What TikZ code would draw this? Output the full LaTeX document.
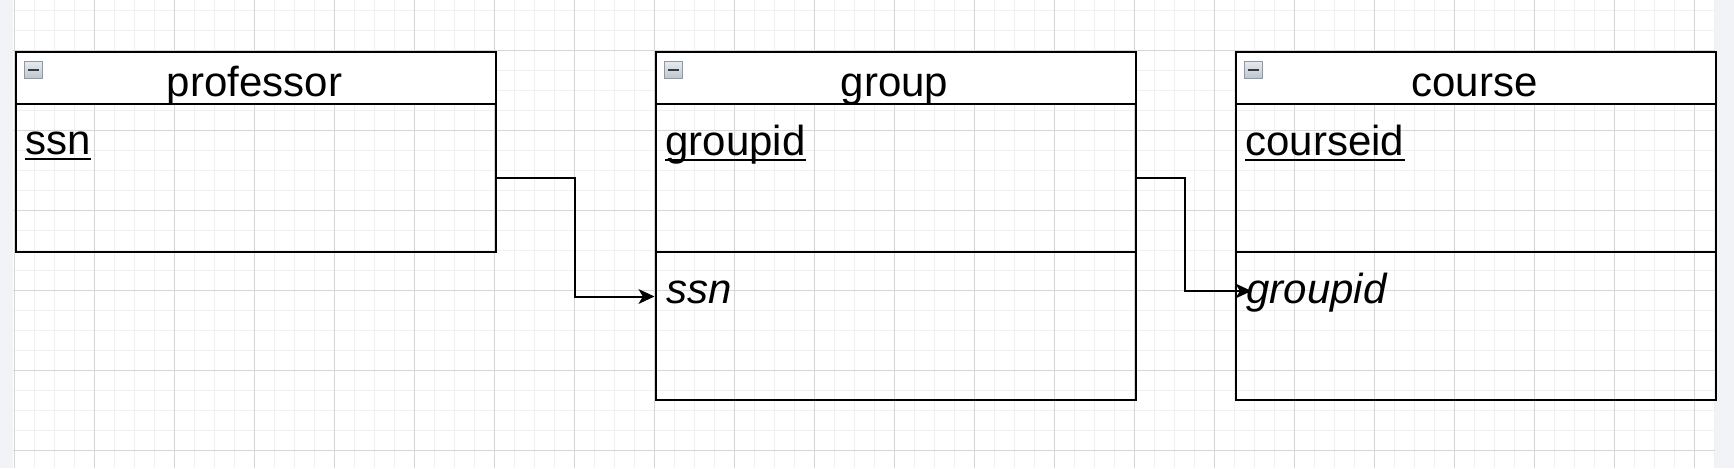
\documentclass[tikz,border=0pt]{standalone}
\usepackage{fontspec}
\setmainfont{Liberation Sans}
\usetikzlibrary{arrows.meta}
\definecolor{gridminor}{HTML}{F0F0F0}
\definecolor{gridmajor}{HTML}{D6D6D6}
\definecolor{pane}{HTML}{F1F3F6}
\definecolor{iconedge}{HTML}{8E99A5}
\definecolor{icontop}{HTML}{E6EAEF}
\definecolor{iconbot}{HTML}{BCC6D0}
\definecolor{iconbar}{HTML}{3A3A3A}
\begin{document}
\begin{tikzpicture}[x=0.5pt,y=-0.5pt,
  box/.style={draw=black,line width=1pt,minimum width=240pt,inner sep=0pt,anchor=north west},
  headbox/.style={box,fill=white,minimum height=26pt},
  secbox/.style={box,minimum height=74pt},
  title/.style={font=\fontsize{21}{25}\selectfont,anchor=base,inner sep=0pt},
  attr/.style={font=\fontsize{21}{25}\selectfont,anchor=base west,inner sep=0pt},
  fkattr/.style={font=\fontsize{21}{25}\selectfont\itshape,anchor=base west,inner sep=0pt},
  uline/.style={line width=1pt},
  conn/.style={line width=1pt,-{Stealth[length=8pt,width=7.4pt,inset=2.2pt]}},
  icon/.style={draw=iconedge,line width=0.5pt,top color=icontop,bottom color=iconbot,
    minimum width=9pt,minimum height=8.3pt,inner sep=0pt,anchor=north west},
  iconminus/.style={draw=iconbar,line width=1.2pt},
  gminor/.style={draw=gridminor,line width=0.5pt},
  gmajor/.style={draw=gridmajor,line width=0.5pt}
]
\useasboundingbox (0,0) rectangle (1734,468);
% canvas and grid
\fill[white] (13,0) rectangle (1715,468);
\fill[pane] (0,0) rectangle (13,468);
\fill[pane] (1715,0) rectangle (1734,468);
\foreach \i in {0,...,85} \draw[gminor] ({14.5+20*\i},0) -- ({14.5+20*\i},468);
\foreach \j in {0,...,22} \draw[gminor] (13,{10.5+20*\j}) -- (1715,{10.5+20*\j});
\foreach \i in {0,...,21} \draw[gmajor] ({14.5+80*\i},0) -- ({14.5+80*\i},468);
\foreach \j in {0,...,5} \draw[gmajor] (13,{50.5+80*\j}) -- (1715,{50.5+80*\j});

% professor
\node[headbox] (prof-h) at (14.5,50.5) {};
\node[secbox] (prof-a) at (14.5,102.5) {};
\node[icon] (prof-i) at (24,61) {};
\draw[iconminus] ([xshift=2pt]prof-i.west) -- ([xshift=-2pt]prof-i.east);
\node[title] (prof-t) at (254.5,96) {professor};
\node[attr] (prof-k) at (25.2,154) {ssn};
\draw[uline] ([yshift=-2.6pt]prof-k.base west) -- ([yshift=-2.6pt]prof-k.base east);

% group
\node[headbox] (grp-h) at (654.5,50.5) {};
\node[secbox] (grp-a) at (654.5,102.5) {};
\node[secbox] (grp-b) at (654.5,250.5) {};
\node[icon] (grp-i) at (664,61) {};
\draw[iconminus] ([xshift=2pt]grp-i.west) -- ([xshift=-2pt]grp-i.east);
\node[title] (grp-t) at (894.5,96) {group};
\node[attr] (grp-k) at (665,155) {groupid};
\draw[uline] ([yshift=-2.6pt]grp-k.base west) -- ([yshift=-2.6pt]grp-k.base east);
\node[fkattr] (grp-f) at (666,303) {ssn};

% course
\node[headbox] (crs-h) at (1234.5,50.5) {};
\node[secbox] (crs-a) at (1234.5,102.5) {};
\node[secbox] (crs-b) at (1234.5,250.5) {};
\node[icon] (crs-i) at (1244,61) {};
\draw[iconminus] ([xshift=2pt]crs-i.west) -- ([xshift=-2pt]crs-i.east);
\node[title] (crs-t) at (1474.5,96) {course};
\node[attr] (crs-k) at (1245,155) {courseid};
\draw[uline] ([yshift=-2.6pt]crs-k.base west) -- ([yshift=-2.6pt]crs-k.base east);
\node[fkattr] (crs-f) at (1246,303) {groupid};

% connectors
\coordinate (bend1) at (574.5,296.5);
\coordinate (bend2) at (1184.5,291);
\draw[conn] (prof-a.east) -| (bend1) -- (bend1 -| grp-b.west);
\draw[conn] (grp-a.east) -| (bend2) -- ([xshift=8.5pt]bend2 -| crs-b.west);
\end{tikzpicture}
\end{document}
